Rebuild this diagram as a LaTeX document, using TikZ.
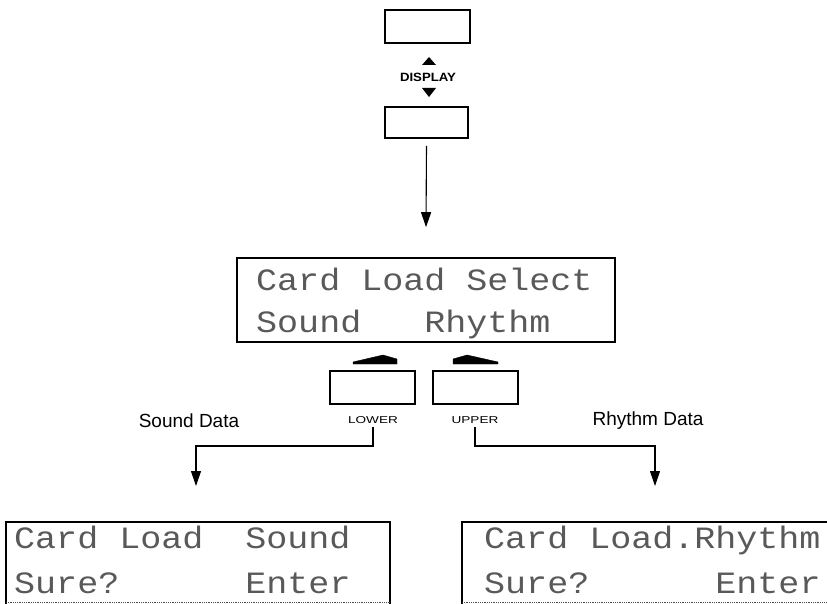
\documentclass[tikz,border=0pt]{standalone}
\usepackage{fontspec}
\setmainfont{Liberation Sans}
\newfontfamily\lcdfont{Liberation Mono}
\usetikzlibrary{arrows.meta}
\tikzset{
  keybox/.style={draw, line width=1.6pt, inner sep=0pt},
  lcdbox/.style={draw, line width=1.6pt, inner sep=0pt},
  lcd/.style={anchor=base west, inner sep=0pt, text=black!65, font=\lcdfont\fontsize{31}{31}\selectfont},
  conn/.style={line width=1.1pt, -{Triangle[length=15pt,width=10pt]}},
  lbl/.style={font=\fontsize{19}{19}\selectfont, inner sep=0pt},
  keylbl/.style={font=\fontsize{10}{10}\selectfont, inner sep=0pt},
  wedge/.style={fill=black, draw=black, line width=0.4pt},
}
\newcommand\lcdrow[1]{\scalebox{1.13}[1]{#1}}
\begin{document}
\begin{tikzpicture}[x=1pt,y=-1pt]
\useasboundingbox (0,0) rectangle (827,604);
% top keys
\node[keybox, minimum width=85pt, minimum height=33pt] (topbox) at (427.5,26.5) {};
\node[font=\bfseries\fontsize{12}{12}\selectfont, inner sep=0pt] (display) at (428,77) {\scalebox{1.1}[1]{DISPLAY}};
\fill (422,65) -- (436,65) -- (429,57) -- cycle;
\fill (422,88) -- (436,88) -- (429,97) -- cycle;
\node[keybox, minimum width=83pt, minimum height=31pt] (dispbox) at (426.5,122.5) {};
% main LCD
\node[lcdbox, minimum width=378pt, minimum height=84pt] (main) at (426,300) {};
\node[lcd] (m1) at (256,290) {\lcdrow{Card~Load~Select}};
\node[lcd] (m2) at (256,332) {\lcdrow{Sound~~~Rhythm}};
\draw[conn] ([yshift=-7pt]dispbox.south) -- ([yshift=30pt]main.north);
% lower / upper keys
\filldraw[wedge] (397,359) -- (383,355) -- (353,362) -- (353,364) -- (397,364) -- cycle;
\filldraw[wedge] (453,359) -- (467,355) -- (498,362) -- (498,364) -- (453,364) -- cycle;
\node[keybox, minimum width=85pt, minimum height=33pt] (lowbox) at (372.5,387.5) {};
\node[keybox, minimum width=85pt, minimum height=33pt] (upbox) at (475.5,387.5) {};
\node[keylbl] (lower) at (373,420) {\scalebox{1.36}[1]{LOWER}};
\node[keylbl] (upper) at (475,420) {\scalebox{1.36}[1]{UPPER}};
\node[lbl] (sdata) at (189,421) {Sound Data};
\node[lbl] (rdata) at (648,421) {Rhythm Data};
\coordinate (lbend) at (196,446);
\coordinate (ltip) at (196,486);
\coordinate (rbend) at (655,446);
\coordinate (rtip) at (655,486);
\draw[conn] ([yshift=-3pt]lower.south) |- (lbend) -- (ltip);
\draw[conn] ([yshift=-3pt]upper.south) |- (rbend) -- (rtip);
% bottom LCDs
\draw[line width=1.6pt] (6,604) -- (6,522) -- (390,522) -- (390,604);
\draw[line width=0.8pt, densely dotted, black!70] (6,602) -- (390,602);
\node[lcd] (l1) at (14,548) {\lcdrow{Card~Load~~Sound}};
\node[lcd] (l2) at (14,593) {\lcdrow{Sure?~~~~~~Enter}};
\begin{scope}
\clip (0,0) rectangle (827,604);
\draw[line width=1.6pt] (462,604) -- (462,522) -- (840,522);
\draw[line width=0.8pt, densely dotted, black!70] (462,602) -- (840,602);
\end{scope}
\node[lcd] (r1) at (484,548) {\lcdrow{Card~Load.Rhythm}};
\node[lcd] (r2) at (484,593) {\lcdrow{Sure?~~~~~~Enter}};
\end{tikzpicture}
\end{document}
